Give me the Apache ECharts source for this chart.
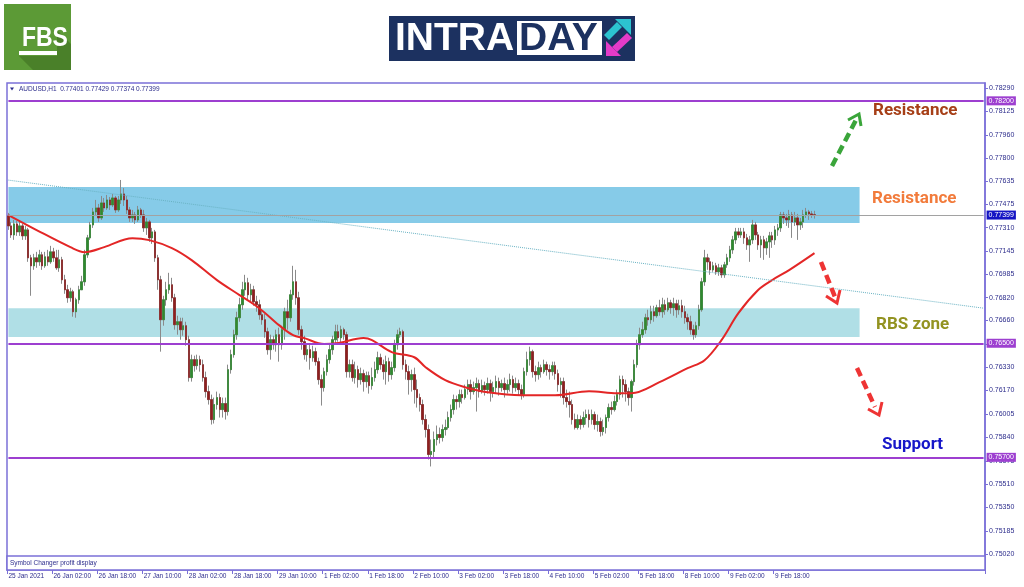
<!DOCTYPE html>
<html>
<head>
<meta charset="utf-8">
<script src="https://cdn.jsdelivr.net/npm/echarts@6/dist/echarts.min.js"></script>
<style>
  html, body { margin: 0; padding: 0; background: #fff; }
  #main { width: 1024px; height: 587px; }
</style>
</head>
<body>
<div id="main"></div>
<script>
// AUDUSD H1 candles, 25 Jan 10:00 -> 10 Feb 08:00
const opens = [
  0.77393,0.77323,0.77260,0.77337,0.77281,0.77323,0.77253,0.77295,0.77099,0.77043,
  0.77099,0.77071,0.77120,0.77043,0.77106,0.77071,0.77141,0.77099,0.77029,0.77085,
  0.76945,0.76875,0.76819,0.76861,0.76721,0.76805,0.76875,0.76931,0.77120,0.77239,
  0.77330,0.77421,0.77449,0.77379,0.77484,0.77449,0.77505,0.77470,0.77519,0.77435,
  0.77505,0.77547,0.77505,0.77435,0.77379,0.77400,0.77365,0.77435,0.77400,0.77309,
  0.77351,0.77239,0.77281,0.77099,0.76945,0.76665,0.76805,0.76875,0.76910,0.76819,
  0.76630,0.76651,0.76595,0.76623,0.76525,0.76259,0.76385,0.76343,0.76385,0.76350,
  0.76259,0.76161,0.76105,0.75965,0.76070,0.76119,0.76035,0.76077,0.76021,0.76315,
  0.76420,0.76560,0.76679,0.76770,0.76875,0.76924,0.76840,0.76875,0.76791,0.76770,
  0.76700,0.76665,0.76581,0.76455,0.76525,0.76490,0.76560,0.76490,0.76595,0.76721,
  0.76679,0.76840,0.76931,0.76819,0.76595,0.76511,0.76420,0.76455,0.76399,0.76441,
  0.76371,0.76245,0.76189,0.76301,0.76385,0.76455,0.76525,0.76581,0.76539,0.76595,
  0.76560,0.76301,0.76350,0.76259,0.76315,0.76245,0.76287,0.76231,0.76273,0.76203,
  0.76259,0.76315,0.76399,0.76350,0.76301,0.76371,0.76280,0.76329,0.76490,0.76560,
  0.76581,0.76350,0.76301,0.76245,0.76280,0.76175,0.76119,0.76070,0.75965,0.75895,
  0.75720,0.75741,0.75825,0.75860,0.75839,0.75895,0.75909,0.75979,0.76035,0.76105,
  0.76091,0.76140,0.76119,0.76175,0.76210,0.76161,0.76189,0.76217,0.76161,0.76203,
  0.76175,0.76217,0.76161,0.76189,0.76231,0.76189,0.76217,0.76175,0.76210,0.76245,
  0.76189,0.76217,0.76175,0.76140,0.76301,0.76385,0.76441,0.76301,0.76280,0.76329,
  0.76301,0.76350,0.76315,0.76301,0.76343,0.76287,0.76210,0.76231,0.76119,0.76091,
  0.76070,0.75965,0.75909,0.75965,0.75930,0.75979,0.76000,0.75965,0.76000,0.75930,
  0.75951,0.75881,0.75909,0.75979,0.76049,0.76035,0.76091,0.76140,0.76245,0.76210,
  0.76161,0.76119,0.76231,0.76350,0.76490,0.76560,0.76595,0.76679,0.76665,0.76721,
  0.76693,0.76749,0.76721,0.76770,0.76735,0.76784,0.76749,0.76777,0.76735,0.76763,
  0.76721,0.76679,0.76651,0.76595,0.76560,0.76623,0.76735,0.76931,0.77099,0.77071,
  0.77015,0.77043,0.77001,0.77029,0.76980,0.77050,0.77099,0.77155,0.77225,0.77281,
  0.77260,0.77281,0.77239,0.77190,0.77225,0.77330,0.77260,0.77190,0.77225,0.77169,
  0.77211,0.77253,0.77225,0.77295,0.77309,0.77400,0.77379,0.77365,0.77400,0.77351,
  0.77379,0.77330,0.77351,0.77400,0.77421,0.77407,0.77401
];
const closes = [
  0.77323,0.77260,0.77337,0.77281,0.77323,0.77253,0.77295,0.77099,0.77043,0.77099,
  0.77071,0.77120,0.77043,0.77106,0.77071,0.77141,0.77099,0.77029,0.77085,0.76945,
  0.76875,0.76819,0.76861,0.76721,0.76805,0.76875,0.76931,0.77120,0.77239,0.77330,
  0.77421,0.77449,0.77379,0.77484,0.77449,0.77505,0.77470,0.77519,0.77435,0.77505,
  0.77547,0.77505,0.77435,0.77379,0.77400,0.77365,0.77435,0.77400,0.77309,0.77351,
  0.77239,0.77281,0.77099,0.76945,0.76665,0.76805,0.76875,0.76910,0.76819,0.76630,
  0.76651,0.76595,0.76623,0.76525,0.76259,0.76385,0.76343,0.76385,0.76350,0.76259,
  0.76161,0.76105,0.75965,0.76070,0.76119,0.76035,0.76077,0.76021,0.76315,0.76420,
  0.76560,0.76679,0.76770,0.76875,0.76924,0.76840,0.76875,0.76791,0.76770,0.76700,
  0.76665,0.76581,0.76455,0.76525,0.76490,0.76560,0.76490,0.76595,0.76721,0.76679,
  0.76840,0.76931,0.76819,0.76595,0.76511,0.76420,0.76455,0.76399,0.76441,0.76371,
  0.76245,0.76189,0.76301,0.76385,0.76455,0.76525,0.76581,0.76539,0.76595,0.76560,
  0.76301,0.76350,0.76259,0.76315,0.76245,0.76287,0.76231,0.76273,0.76203,0.76259,
  0.76315,0.76399,0.76350,0.76301,0.76371,0.76280,0.76329,0.76490,0.76560,0.76581,
  0.76350,0.76301,0.76245,0.76280,0.76175,0.76119,0.76070,0.75965,0.75895,0.75720,
  0.75741,0.75825,0.75860,0.75839,0.75895,0.75909,0.75979,0.76035,0.76105,0.76091,
  0.76140,0.76119,0.76175,0.76210,0.76161,0.76189,0.76217,0.76161,0.76203,0.76175,
  0.76217,0.76161,0.76189,0.76231,0.76189,0.76217,0.76175,0.76210,0.76245,0.76189,
  0.76217,0.76175,0.76140,0.76301,0.76385,0.76441,0.76301,0.76280,0.76329,0.76301,
  0.76350,0.76315,0.76301,0.76343,0.76287,0.76210,0.76231,0.76119,0.76091,0.76070,
  0.75965,0.75909,0.75965,0.75930,0.75979,0.76000,0.75965,0.76000,0.75930,0.75951,
  0.75881,0.75909,0.75979,0.76049,0.76035,0.76091,0.76140,0.76245,0.76210,0.76161,
  0.76119,0.76231,0.76350,0.76490,0.76560,0.76595,0.76679,0.76665,0.76721,0.76693,
  0.76749,0.76721,0.76770,0.76735,0.76784,0.76749,0.76777,0.76735,0.76763,0.76721,
  0.76679,0.76651,0.76595,0.76560,0.76623,0.76735,0.76931,0.77099,0.77071,0.77015,
  0.77043,0.77001,0.77029,0.76980,0.77050,0.77099,0.77155,0.77225,0.77281,0.77260,
  0.77281,0.77239,0.77190,0.77225,0.77330,0.77260,0.77190,0.77225,0.77169,0.77211,
  0.77253,0.77225,0.77295,0.77309,0.77400,0.77379,0.77365,0.77400,0.77351,0.77379,
  0.77330,0.77351,0.77400,0.77421,0.77407,0.77401,0.77399
];
const highs = [
  0.77414,0.77351,0.77365,0.77358,0.77351,0.77337,0.77323,0.77309,0.77120,0.77127,
  0.77141,0.77155,0.77141,0.77141,0.77155,0.77183,0.77169,0.77155,0.77155,0.77106,
  0.76980,0.76910,0.76889,0.76875,0.76819,0.76903,0.76973,0.77155,0.77260,0.77351,
  0.77449,0.77505,0.77477,0.77533,0.77519,0.77540,0.77526,0.77547,0.77533,0.77533,
  0.77645,0.77589,0.77533,0.77456,0.77435,0.77421,0.77463,0.77449,0.77435,0.77379,
  0.77365,0.77309,0.77295,0.77120,0.76973,0.76833,0.76931,0.76994,0.76959,0.76847,
  0.76693,0.76679,0.76679,0.76651,0.76553,0.76420,0.76413,0.76420,0.76413,0.76385,
  0.76301,0.76203,0.76140,0.76119,0.76161,0.76147,0.76119,0.76119,0.76350,0.76455,
  0.76595,0.76721,0.76819,0.76931,0.76980,0.76959,0.76917,0.76903,0.76833,0.76805,
  0.76735,0.76707,0.76609,0.76560,0.76553,0.76595,0.76609,0.76623,0.76749,0.76805,
  0.76875,0.77043,0.77015,0.76861,0.76623,0.76553,0.76497,0.76490,0.76483,0.76469,
  0.76399,0.76280,0.76329,0.76420,0.76490,0.76553,0.76630,0.76630,0.76623,0.76609,
  0.76581,0.76385,0.76385,0.76371,0.76343,0.76329,0.76315,0.76301,0.76301,0.76329,
  0.76371,0.76441,0.76427,0.76385,0.76413,0.76399,0.76371,0.76525,0.76595,0.76609,
  0.76595,0.76385,0.76343,0.76315,0.76329,0.76245,0.76147,0.76105,0.76000,0.75930,
  0.75825,0.75881,0.75923,0.75909,0.75930,0.75965,0.76021,0.76070,0.76140,0.76133,
  0.76175,0.76175,0.76210,0.76245,0.76245,0.76231,0.76259,0.76245,0.76245,0.76231,
  0.76259,0.76245,0.76231,0.76273,0.76259,0.76245,0.76259,0.76245,0.76287,0.76273,
  0.76259,0.76245,0.76210,0.76329,0.76441,0.76476,0.76455,0.76343,0.76371,0.76350,
  0.76385,0.76371,0.76350,0.76371,0.76371,0.76315,0.76259,0.76259,0.76175,0.76161,
  0.76105,0.76007,0.76000,0.75993,0.76021,0.76035,0.76035,0.76035,0.76021,0.76000,
  0.75979,0.75965,0.76000,0.76077,0.76091,0.76133,0.76175,0.76273,0.76273,0.76245,
  0.76189,0.76245,0.76385,0.76525,0.76609,0.76651,0.76707,0.76735,0.76763,0.76763,
  0.76770,0.76805,0.76819,0.76805,0.76819,0.76805,0.76819,0.76805,0.76805,0.76805,
  0.76763,0.76707,0.76693,0.76630,0.76651,0.76770,0.76959,0.77155,0.77127,0.77099,
  0.77071,0.77064,0.77057,0.77050,0.77071,0.77127,0.77183,0.77253,0.77309,0.77309,
  0.77309,0.77309,0.77267,0.77253,0.77365,0.77351,0.77281,0.77253,0.77253,0.77239,
  0.77281,0.77281,0.77323,0.77337,0.77421,0.77421,0.77407,0.77435,0.77421,0.77421,
  0.77407,0.77379,0.77435,0.77449,0.77435,0.77428,0.77429
];
const lows = [
  0.77295,0.77239,0.77225,0.77253,0.77253,0.77225,0.77225,0.77071,0.76833,0.77015,
  0.77029,0.77043,0.77015,0.77029,0.77043,0.77057,0.77071,0.77015,0.77001,0.76917,
  0.76847,0.76784,0.76791,0.76686,0.76679,0.76777,0.76889,0.76903,0.77099,0.77225,
  0.77309,0.77393,0.77351,0.77365,0.77421,0.77435,0.77435,0.77456,0.77414,0.77421,
  0.77477,0.77463,0.77407,0.77351,0.77351,0.77337,0.77351,0.77379,0.77281,0.77260,
  0.77211,0.77197,0.77071,0.76875,0.76441,0.76623,0.76763,0.76847,0.76791,0.76595,
  0.76560,0.76525,0.76553,0.76483,0.76231,0.76231,0.76301,0.76315,0.76301,0.76231,
  0.76119,0.76070,0.75930,0.75937,0.76035,0.75979,0.75979,0.75965,0.75993,0.76287,
  0.76399,0.76525,0.76651,0.76735,0.76833,0.76805,0.76791,0.76763,0.76721,0.76665,
  0.76630,0.76539,0.76420,0.76385,0.76455,0.76441,0.76371,0.76455,0.76525,0.76595,
  0.76651,0.76805,0.76770,0.76560,0.76455,0.76385,0.76371,0.76315,0.76371,0.76343,
  0.76210,0.76063,0.76161,0.76273,0.76357,0.76420,0.76497,0.76511,0.76490,0.76525,
  0.76259,0.76259,0.76231,0.76217,0.76189,0.76210,0.76161,0.76189,0.76147,0.76175,
  0.76231,0.76287,0.76315,0.76245,0.76210,0.76231,0.76245,0.76301,0.76455,0.76539,
  0.76315,0.76245,0.76140,0.76161,0.76077,0.76049,0.76021,0.75930,0.75839,0.75685,
  0.75636,0.75699,0.75783,0.75797,0.75811,0.75853,0.75895,0.75951,0.76000,0.76035,
  0.76049,0.76077,0.76105,0.76140,0.76105,0.76140,0.76021,0.76119,0.76147,0.76133,
  0.76147,0.76091,0.76119,0.76147,0.76133,0.76161,0.76119,0.76147,0.76161,0.76147,
  0.76161,0.76133,0.76105,0.76119,0.76273,0.76343,0.76259,0.76231,0.76245,0.76259,
  0.76287,0.76273,0.76245,0.76273,0.76245,0.76161,0.76119,0.76070,0.76049,0.75979,
  0.75930,0.75895,0.75895,0.75895,0.75909,0.75930,0.75909,0.75930,0.75895,0.75881,
  0.75846,0.75853,0.75867,0.75951,0.76000,0.76021,0.76063,0.76105,0.76119,0.76091,
  0.76063,0.76021,0.76203,0.76329,0.76455,0.76539,0.76567,0.76623,0.76637,0.76651,
  0.76679,0.76693,0.76679,0.76700,0.76721,0.76707,0.76693,0.76679,0.76700,0.76679,
  0.76637,0.76595,0.76560,0.76525,0.76539,0.76595,0.76721,0.76903,0.77015,0.76980,
  0.77001,0.76980,0.76973,0.76959,0.76959,0.77029,0.77071,0.77127,0.77197,0.77239,
  0.77239,0.77197,0.77155,0.77071,0.77197,0.77225,0.77155,0.77099,0.77085,0.77120,
  0.77099,0.77169,0.77190,0.77253,0.77281,0.77337,0.77323,0.77309,0.77239,0.77323,
  0.77225,0.77295,0.77309,0.77379,0.77365,0.77379,0.77374
];

// red moving average, sampled at bar indexes
const maIdx = [0,10,22,27,34,44,50,58,65,74,82,89,96,101,105,112,117,126,129,136,144,148,155,162,170,182,194,206,216,221,231,241,247,253,259,266,271,277,286];
const maVal = [0.77399,0.77294,0.77174,0.77139,0.77174,0.77237,0.77223,0.77167,0.77083,0.76943,
  0.76838,0.76746,0.76627,0.76557,0.76536,0.76494,0.76501,0.76536,0.76522,0.76438,
  0.76402,0.76332,0.76241,0.76192,0.76157,0.76136,0.76136,0.76164,0.76150,0.76150,
  0.76227,0.76325,0.76381,0.76522,0.76711,0.76873,0.76943,0.77013,0.77132];

const tickLabels = ['25 Jan 2021','26 Jan 02:00','26 Jan 18:00','27 Jan 10:00','28 Jan 02:00','28 Jan 18:00',
  '29 Jan 10:00','1 Feb 02:00','1 Feb 18:00','2 Feb 10:00','3 Feb 02:00','3 Feb 18:00','4 Feb 10:00',
  '5 Feb 02:00','5 Feb 18:00','8 Feb 10:00','9 Feb 02:00','9 Feb 18:00'];
const yTicks = [0.78290,0.78125,0.77960,0.77800,0.77635,0.77475,0.77310,0.77145,0.76985,0.76820,0.76660,
  0.76495,0.76330,0.76170,0.76005,0.75840,0.75675,0.75510,0.75350,0.75185,0.75020];

const levels = [0.78200, 0.76500, 0.75700];
const resistZone = [0.77595, 0.77343];
const rbsZone = [0.76746, 0.76543];
const trendLine = [0.77644, 0.76746];

const slots = 347;      // bar slots across the plot (incl. empty right margin)
const zoneEnd = 302;
const FRAME = '#7b70d8';
const TXT = '#2d2d8c';
const LEVEL = '#9d3fd0';

const cats = [];
for (let i = 0; i < slots; i++) cats.push('b' + i);
const showTick = i => i % 16 === 0 && i / 16 < tickLabels.length;

const candleData = closes.map((c, i) => [opens[i], c, lows[i], highs[i]]);
const bodyData = closes.map((c, i) => [opens[i], c, Math.min(opens[i], c), Math.max(opens[i], c)]);
const maData = maIdx.map((x, i) => [x, maVal[i]]);
const last = closes.length - 1;
const header = 'AUDUSD,H1  ' + [opens[last], highs[last], lows[last], closes[last]].map(v => v.toFixed(5)).join(' ');

const chart = echarts.init(document.getElementById('main'));

// horizontal level running across the whole plot, with its price tag on the axis
const levelLine = (v, bg, lineColor, width) => [
  {
    coord: [0, v],
    lineStyle: { color: lineColor, width: width, type: 'solid' },
    label: {
      show: true, position: 'end', distance: 3, formatter: v.toFixed(5),
      backgroundColor: bg, color: '#fff', fontSize: 7, fontFamily: 'Liberation Sans',
      padding: [1, 2, 1, 2]
    }
  },
  { coord: [slots - 1, v] }
];

const option = {
  animation: false,
  backgroundColor: '#fff',
  grid: { left: 7, right: 39, top: 83, bottom: 17, show: true, borderColor: FRAME, borderWidth: 1.5 },
  xAxis: {
    type: 'category',
    data: cats,
    boundaryGap: true,
    axisLine: { show: false },
    axisTick: { show: true, interval: i => showTick(i), length: 4, lineStyle: { color: FRAME } },
    axisLabel: {
      interval: i => showTick(i),
      formatter: (v, i) => tickLabels[i / 16] || '',
      align: 'left', fontSize: 6.5, color: TXT, margin: 3, fontFamily: 'Liberation Sans'
    },
    splitLine: { show: false }
  },
  yAxis: {
    type: 'value',
    position: 'right',
    min: 0.74910,
    max: 0.78325,
    splitLine: { show: false },
    axisLine: { show: true, lineStyle: { color: FRAME, width: 1.5 } },
    axisTick: { show: true, customValues: yTicks, length: 3, lineStyle: { color: FRAME } },
    axisLabel: {
      customValues: yTicks, formatter: v => v.toFixed(5),
      fontSize: 7, color: TXT, margin: 4, fontFamily: 'Liberation Sans'
    }
  },
  series: [
    {
      // wicks (grey)
      type: 'candlestick',
      data: candleData,
      barWidth: 2,
      itemStyle: { color: '#8a8a8a', color0: '#8a8a8a', borderColor: '#8a8a8a', borderColor0: '#8a8a8a', borderWidth: 1 },
      markArea: {
        silent: true,
        z: 1,
        data: [
          [{ coord: [0, resistZone[0]], itemStyle: { color: '#86cbe8' } }, { coord: [zoneEnd, resistZone[1]] }],
          [{ coord: [0, rbsZone[0]], itemStyle: { color: '#b0dfe6' } }, { coord: [zoneEnd, rbsZone[1]] }]
        ]
      },
      z: 2
    },
    {
      // coloured bodies
      type: 'candlestick',
      data: bodyData,
      barWidth: 2,
      itemStyle: { color: '#2f8a2f', color0: '#8e1f1f', borderColor: '#2f8a2f', borderColor0: '#8e1f1f', borderWidth: 0.6 },
      z: 3
    },
    {
      type: 'line',
      data: maData,
      smooth: 0.35,
      showSymbol: false,
      lineStyle: { color: '#e32626', width: 2 },
      z: 4,
      markLine: {
        silent: true,
        symbol: ['none', 'none'],
        data: [
          [{ coord: [0, trendLine[0]], lineStyle: { color: '#6ab3c4', type: 'dotted', width: 1 }, label: { show: false } },
           { coord: [slots - 1, trendLine[1]] }],
          levelLine(closes[last], '#1414c4', '#a2a2a2', 1),
          levelLine(levels[0], LEVEL, LEVEL, 2),
          levelLine(levels[1], LEVEL, LEVEL, 2),
          levelLine(levels[2], LEVEL, LEVEL, 2)
        ]
      }
    }
  ],
  graphic: [
    // FBS logo
    { type: 'rect', shape: { x: 4, y: 4, width: 67, height: 66 }, style: { fill: '#5c9a36' } },
    { type: 'polygon', shape: { points: [[19, 56], [57, 56], [57, 30], [71, 44], [71, 70], [33, 70]] }, style: { fill: '#4a8029' } },
    { type: 'text', x: 38, y: 38, scaleX: 0.82, originX: 38, originY: 38,
      style: { text: 'FBS', fill: '#fff', font: 'bold 28px "Liberation Sans"', align: 'center', verticalAlign: 'middle' } },
    { type: 'rect', shape: { x: 19, y: 51, width: 38, height: 4 }, style: { fill: '#fff' } },
    // INTRADAY logo
    { type: 'rect', shape: { x: 389, y: 16, width: 246, height: 45 }, style: { fill: '#1c3160' } },
    { type: 'text', x: 395, y: 39, style: { text: 'INTRA', fill: '#fff', font: 'bold 39px "Liberation Sans"', verticalAlign: 'middle' } },
    { type: 'rect', shape: { x: 517, y: 21, width: 85, height: 34 }, style: { fill: '#fff' } },
    { type: 'text', x: 519, y: 39, style: { text: 'DAY', fill: '#1c3160', font: 'bold 39px "Liberation Sans"', verticalAlign: 'middle' } },
    { type: 'polygon', shape: { points: [[604, 35], [609, 40], [622, 27], [617, 22]] }, style: { fill: '#2cc3d0' } },
    { type: 'polygon', shape: { points: [[615, 19], [631, 19], [631, 35]] }, style: { fill: '#2cc3d0' } },
    { type: 'polygon', shape: { points: [[612, 47], [617, 52], [632, 38], [627, 33]] }, style: { fill: '#e43bc8' } },
    { type: 'polygon', shape: { points: [[606, 56], [606, 41], [621, 56]] }, style: { fill: '#e43bc8' } },
    // header inside the chart
    { type: 'polygon', shape: { points: [[10, 87.5], [14, 87.5], [12, 90.5]] }, style: { fill: TXT } },
    { type: 'text', x: 19, y: 89, style: { text: header, fill: TXT, font: '6.5px "Liberation Sans"', verticalAlign: 'middle' } },
    // indicator sub-window
    { type: 'rect', z: 10, shape: { x: 7, y: 556, width: 978, height: 14 }, style: { fill: '#fff', stroke: FRAME, lineWidth: 1.5 } },
    { type: 'text', z: 11, x: 10, y: 563.5, style: { text: 'Symbol Changer profit display', fill: TXT, font: '6.5px "Liberation Sans"', verticalAlign: 'middle' } },
    // annotations
    { type: 'text', z: 12, x: 873, y: 111, style: { text: 'Resistance', fill: '#a63f17', font: 'bold 17px Roboto', verticalAlign: 'middle' } },
    { type: 'text', z: 12, x: 872, y: 199, style: { text: 'Resistance', fill: '#f27b3b', font: 'bold 17px Roboto', verticalAlign: 'middle' } },
    { type: 'text', z: 12, x: 876, y: 325, style: { text: 'RBS zone', fill: '#939321', font: 'bold 17px Roboto', verticalAlign: 'middle' } },
    { type: 'text', z: 12, x: 882, y: 445, style: { text: 'Support', fill: '#1717c9', font: 'bold 17px Roboto', verticalAlign: 'middle' } },
    { type: 'polyline', z: 12, shape: { points: [[832, 166], [856, 120]] }, style: { stroke: '#3aa53a', lineWidth: 4.5, lineDash: [9, 5], fill: null } },
    { type: 'polyline', z: 12, shape: { points: [[848, 120], [859, 114], [861, 126]] }, style: { stroke: '#3aa53a', lineWidth: 3, fill: null } },
    { type: 'polyline', z: 12, shape: { points: [[821, 262], [835, 297]] }, style: { stroke: '#ee3434', lineWidth: 4.5, lineDash: [9, 5], fill: null } },
    { type: 'polyline', z: 12, shape: { points: [[826, 296], [837, 303], [840, 290]] }, style: { stroke: '#ee3434', lineWidth: 3, fill: null } },
    { type: 'polyline', z: 12, shape: { points: [[857, 368], [875, 407]] }, style: { stroke: '#ee3434', lineWidth: 4.5, lineDash: [9, 5], fill: null } },
    { type: 'polyline', z: 12, shape: { points: [[868, 409], [879, 415], [882, 402]] }, style: { stroke: '#ee3434', lineWidth: 3, fill: null } }
  ]
};

chart.setOption(option);
</script>
</body>
</html>
